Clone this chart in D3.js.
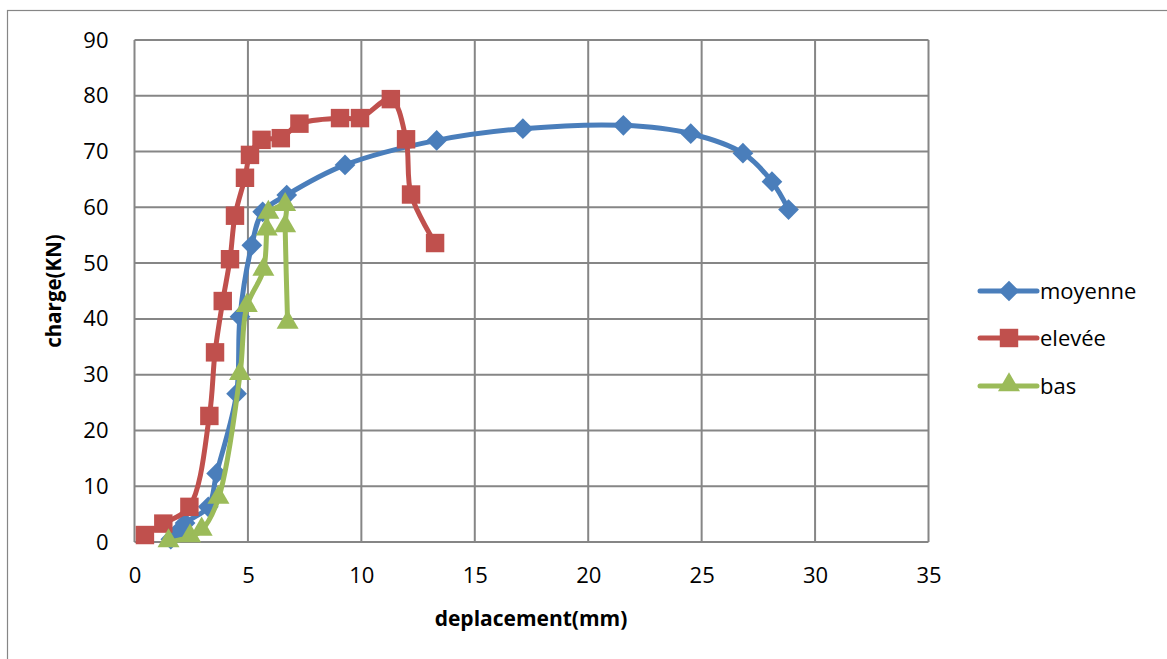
<!DOCTYPE html>
<html>
<head>
<meta charset="utf-8">
<script src="https://cdn.jsdelivr.net/npm/d3@7"></script>
<style>
  body { margin: 0; background: #fff; }
  svg { display: block; }
  text { font-family: "Open Sans", "Noto Sans", sans-serif; fill: #000; }
</style>
</head>
<body>
<svg id="chart" width="1167" height="659"></svg>
<script>
const seriesNames = ["moyenne", "elevée", "bas"];
const moyenneX = [1.6, 1.86, 2.23, 3.25, 3.62, 4.5, 4.65, 5.17, 5.65, 6.71, 9.28, 13.32, 17.12, 21.55, 24.52, 26.82, 28.1, 28.83];
const moyenneY = [0.5, 1.6, 3.4, 6.3, 12.3, 26.6, 40.4, 53.2, 59.2, 62.2, 67.6, 72.0, 74.1, 74.7, 73.2, 69.7, 64.6, 59.6];
const eleveeX = [0.46, 1.27, 2.42, 3.3, 3.55, 3.89, 4.21, 4.43, 4.87, 5.09, 5.6, 6.45, 7.27, 9.06, 9.94, 11.3, 11.97, 12.19, 13.25];
const eleveeY = [1.25, 3.3, 6.3, 22.6, 34.0, 43.2, 50.7, 58.5, 65.3, 69.4, 72.1, 72.4, 75.0, 76.0, 76.0, 79.4, 72.2, 62.3, 53.6];
const basX = [1.5, 2.45, 2.96, 3.7, 4.65, 4.95, 5.68, 5.83, 5.9, 6.64, 6.64, 6.75];
const basY = [0.0, 0.9, 2.1, 7.8, 30.0, 42.2, 48.7, 55.9, 58.9, 60.3, 56.5, 39.2];
const xTicks = [0, 5, 10, 15, 20, 25, 30, 35];
const yTicks = [0, 10, 20, 30, 40, 50, 60, 70, 80, 90];
const colors = ["#4A7EBB", "#C0504D", "#9BBB59"];

const series = [
  { name: seriesNames[0], xs: moyenneX, ys: moyenneY, color: colors[0], kind: "diamond" },
  { name: seriesNames[1], xs: eleveeX, ys: eleveeY, color: colors[1], kind: "square" },
  { name: seriesNames[2], xs: basX, ys: basY, color: colors[2], kind: "triangle" }
];

function marker(kind) {
  if (kind === "square") return { d: d3.symbol().type(d3.symbolSquare).size(340)(), rot: 0, dy: 0 };
  if (kind === "diamond") return { d: d3.symbol().type(d3.symbolSquare).size(215)(), rot: 45, dy: 0 };
  return { d: d3.symbol().type(d3.symbolTriangle).size(210)(), rot: 0, dy: -1 };
}

const svg = d3.select("#chart");
const grid = "#868686";

svg.append("rect").attr("x", 7.5).attr("y", 10.5).attr("width", 1170).attr("height", 660)
  .attr("fill", "none").attr("stroke", grid).attr("stroke-width", 1.2);

const x = d3.scaleLinear().domain([0, 35]).range([134.5, 928.5]);
const y = d3.scaleLinear().domain([0, 90]).range([542, 40]);

// gridlines
svg.append("g").selectAll("line").data(yTicks).join("line")
  .attr("x1", x(0)).attr("x2", x(35)).attr("y1", d => y(d)).attr("y2", d => y(d))
  .attr("stroke", grid).attr("stroke-width", 2);
svg.append("g").selectAll("line").data(xTicks).join("line")
  .attr("y1", y(0)).attr("y2", y(90)).attr("x1", d => x(d)).attr("x2", d => x(d))
  .attr("stroke", grid).attr("stroke-width", 2);

// axes labels
const xAxis = d3.axisBottom(x).tickValues(xTicks).tickSize(0).tickPadding(25);
const gx = svg.append("g").attr("transform", `translate(0,${y(0)})`).call(xAxis);
gx.select(".domain").remove();
gx.selectAll("text").style("font-size", "22px").style("font-family", "'Open Sans', sans-serif");

const yAxis = d3.axisLeft(y).tickValues(yTicks).tickSize(0).tickPadding(26);
const gy = svg.append("g").attr("transform", `translate(${x(0)},0)`).call(yAxis);
gy.select(".domain").remove();
gy.selectAll("text").style("font-size", "22px").style("font-family", "'Open Sans', sans-serif");

// axis titles
svg.append("text").attr("x", 531).attr("y", 626).attr("text-anchor", "middle")
  .style("font-size", "21px").style("font-weight", "bold").text("deplacement(mm)");
svg.append("text").attr("transform", "translate(61,291) rotate(-90)").attr("text-anchor", "middle")
  .style("font-size", "20.5px").style("font-weight", "bold").text("charge(KN)");

const line = d3.line().x(d => x(d[0])).y(d => y(d[1])).curve(d3.curveCatmullRom.alpha(0.5));

series.forEach(s => {
  const pts = s.xs.map((v, i) => [v, s.ys[i]]);
  const g = svg.append("g");
  g.append("path").datum(pts).attr("d", line).attr("fill", "none")
    .attr("stroke", s.color).attr("stroke-width", 5).attr("stroke-linejoin", "round");
  const m = marker(s.kind);
  g.selectAll("path.m").data(pts).join("path").attr("class", "m")
    .attr("transform", d => `translate(${x(d[0])},${y(d[1]) + m.dy}) rotate(${m.rot})`)
    .attr("d", m.d)
    .attr("fill", s.color);
});

// legend
const legY = [291, 338, 386];
series.forEach((s, i) => {
  const g = svg.append("g").attr("transform", `translate(0,${legY[i]})`);
  g.append("line").attr("x1", 980).attr("x2", 1037).attr("y1", 0).attr("y2", 0)
    .attr("stroke", s.color).attr("stroke-width", 5).attr("stroke-linecap", "round");
  const m = marker(s.kind);
  g.append("path").attr("transform", `translate(1009,${m.dy}) rotate(${m.rot})`)
    .attr("d", m.d).attr("fill", s.color);
  g.append("text").attr("x", 1040).attr("y", 8).style("font-size", "22px").text(s.name);
});
</script>
</body>
</html>
